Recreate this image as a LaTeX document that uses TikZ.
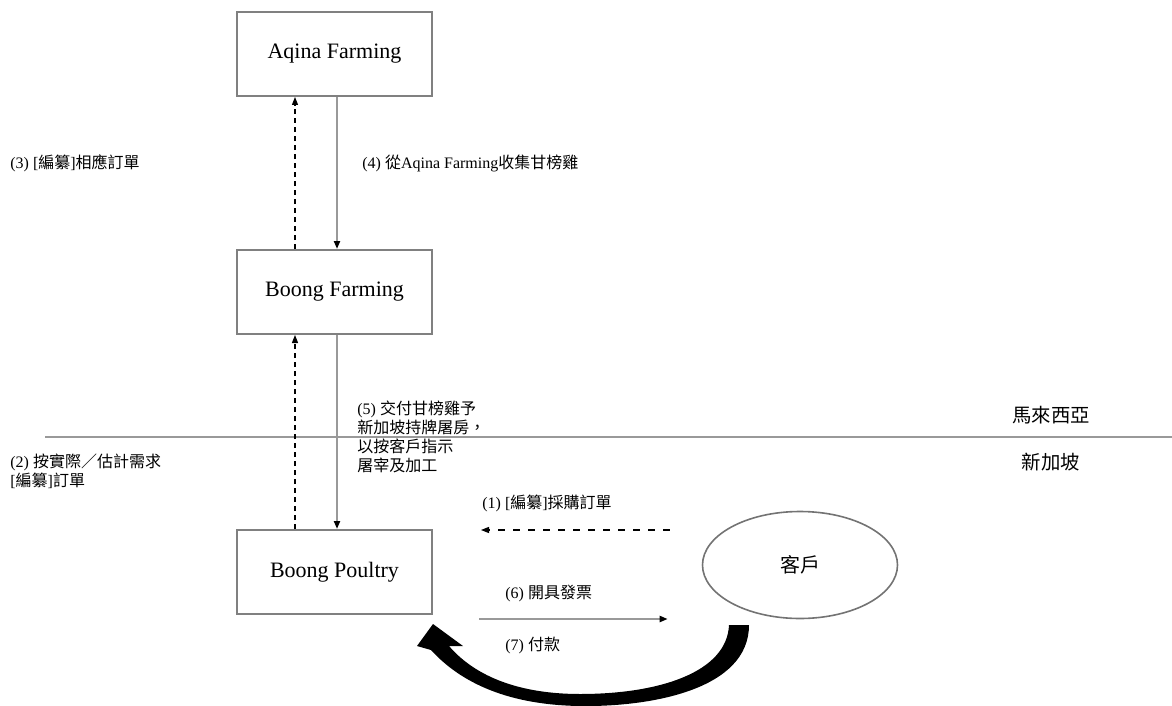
\documentclass[tikz,border=0pt]{standalone}
\usepackage{fontspec}
\setmainfont{Liberation Serif}
\newfontfamily\cjk{Noto Sans CJK TC}
\usetikzlibrary{arrows.meta,shapes.geometric}

\begin{document}
\begin{tikzpicture}[x=0.5pt,y=-0.5pt,
                    firm/.style={draw=black!50, line width=1pt, minimum width=97.5pt, minimum height=42pt, font=\fontsize{11}{13}\selectfont},
                    cust/.style={ellipse, draw=black!55, line width=0.8pt, minimum width=97.5pt, minimum height=53.5pt, font=\fontsize{10}{12}\selectfont},
                    note/.style={anchor=west, align=left, inner sep=0pt, font=\fontsize{8}{9.4}\selectfont},
                    region/.style={inner sep=0pt, font=\fontsize{9.7}{11}\selectfont},
                    goods/.style={draw=black!40, line width=1pt, -{Triangle[length=4pt,width=3pt,color=black]}},
                    order/.style={dash pattern=on 2.5pt off 2pt, line width=0.6pt, -{Triangle[length=4pt,width=3pt]}}]
  \useasboundingbox (0,0) rectangle (1172,706);

  % farms and customer
  \node[firm] (aqina) at (334.5,54) {Aqina Farming};
  \node[firm] (bfarm) at (334.5,292) {Boong Farming};
  \node[firm] (poultry) at (334.5,572) {Boong Poultry};
  \node[cust] (client) at (800,565) {\cjk 客戶};

  % border
  \draw[black!40, line width=1pt] (45,437) -- (1172,437);
  \node[region] (my) at (1051,415) {\cjk 馬來西亞};
  \node[region] (sg) at (1051,462) {\cjk 新加坡};

  % orders
  \draw[order] ([xshift=-19.75pt]bfarm.north) -- ([xshift=-19.75pt]aqina.south);
  \draw[order] ([xshift=-19.75pt]poultry.north) -- ([xshift=-19.75pt]bfarm.south);
  \draw[order, dash pattern=on 3.5pt off 4pt] ([xshift=-16pt,yshift=17.5pt]client.west) -- ([xshift=24pt,yshift=21pt]poultry.east);

  % goods
  \draw[goods] ([xshift=1.25pt]aqina.south) -- ([xshift=1.25pt]bfarm.north);
  \draw[goods] ([xshift=1.25pt]bfarm.south) -- ([xshift=1.25pt]poultry.north);
  \draw[goods] ([xshift=23pt,yshift=-23.5pt]poultry.east) -- ([xshift=-17pt,yshift=-27pt]client.west);

  % payment
  \fill[black] (729,625) -- (749,625)
    .. controls (749,690) and (650,707) .. (580,706)
    .. controls (510,705) and (462,684) .. (431,650)
    -- (417,646) -- (433,624) -- (463,646) -- (449,646)
    .. controls (480,682) and (530,694) .. (580,694)
    .. controls (660,694) and (727,672) .. (729,625) -- cycle;

  % labels
  \node[note] (l3) at (10,163) {(3) [{\cjk 編纂}]{\cjk 相應訂單}};
  \node[note] (l4) at (362,163) {(4) {\cjk 從}Aqina Farming{\cjk 收集甘榜雞}};
  \node[note] (l5) at (357,437) {(5) {\cjk 交付甘榜雞予}\\{\cjk 新加坡持牌屠房，}\\{\cjk 以按客戶指示}\\{\cjk 屠宰及加工}};
  \node[note] (l2) at (10,471.5) {(2) {\cjk 按實際／估計需求}\\{}[{\cjk 編纂}]{\cjk 訂單}};
  \node[note] (l1) at (482,503) {(1) [{\cjk 編纂}]{\cjk 採購訂單}};
  \node[note] (l6) at (505,593) {(6) {\cjk 開具發票}};
  \node[note] (l7) at (505,645) {(7) {\cjk 付款}};
\end{tikzpicture}
\end{document}
